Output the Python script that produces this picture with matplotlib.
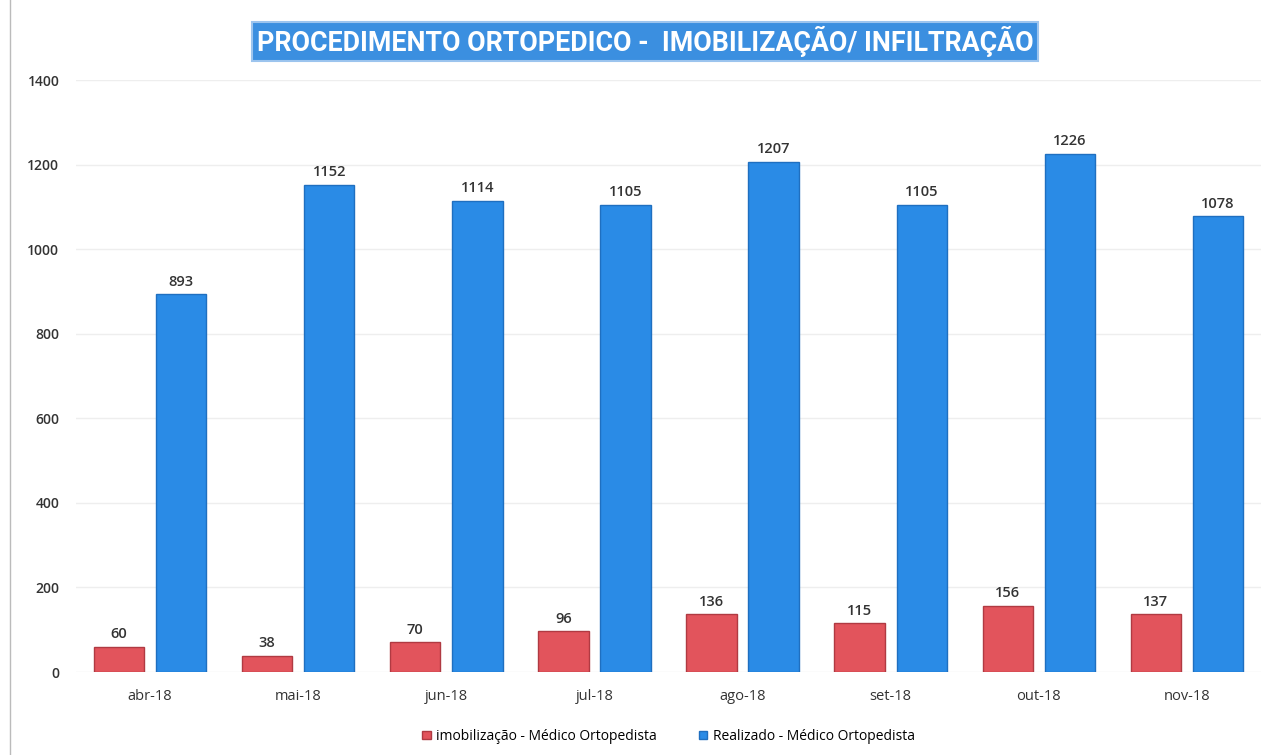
import numpy as np
import matplotlib as mpl
from matplotlib import pyplot as plt
from matplotlib.patches import Rectangle

mpl.rcParams['font.family'] = ['Open Sans', 'DejaVu Sans']

months = ['abr-18', 'mai-18', 'jun-18', 'jul-18', 'ago-18', 'set-18', 'out-18', 'nov-18']
imobilizacao = [60, 38, 70, 96, 136, 115, 156, 137]
realizado = [893, 1152, 1114, 1105, 1207, 1105, 1226, 1078]

red = '#e2545c'
blue = '#2a8be6'

fig = plt.figure(figsize=(12.71, 7.55), dpi=100)
ax = fig.add_axes([76 / 1271, 83 / 755, 1185 / 1271, 592 / 755])

x = np.arange(len(months))
w = 0.34
off = 0.21
ax.bar(x - off, imobilizacao, w, color=red, edgecolor='#b03a42', linewidth=1,
       label='imobilização - Médico Ortopedista', zorder=3)
ax.bar(x + off, realizado, w, color=blue, edgecolor='#1f6fc0', linewidth=1,
       label='Realizado - Médico Ortopedista', zorder=3)

for xi, v in zip(x, imobilizacao):
    ax.annotate(str(v), (xi - off, v), xytext=(0, 4), textcoords='offset points',
                ha='center', va='bottom', fontsize=10.5, fontweight='semibold', color='#333333')
for xi, v in zip(x, realizado):
    ax.annotate(str(v), (xi + off, v), xytext=(0, 4), textcoords='offset points',
                ha='center', va='bottom', fontsize=10.5, fontweight='semibold', color='#333333')

ax.set_xlim(-0.5, len(months) - 0.5)
ax.set_ylim(0, 1400)
ax.set_yticks(range(0, 1401, 200))
ax.set_xticks(x)
ax.set_xticklabels(months, fontsize=10.5, color='#333333')
ax.tick_params(axis='y', labelsize=10, colors='#333333', length=0, pad=12)
for t in ax.get_yticklabels():
    t.set_fontweight('semibold')
ax.tick_params(axis='x', length=0, pad=12)
ax.grid(axis='y', color='#eeeeee', linewidth=1, zorder=0)
for s in ax.spines.values():
    s.set_visible(False)

ax.legend(loc='upper center', bbox_to_anchor=(0.5, -0.075), ncol=2, frameon=False,
          fontsize=10, handlelength=0.6, handleheight=0.6, columnspacing=3,
          handletextpad=0.4)

# title box
fig.patches.append(Rectangle((252 / 1271, 1 - 61 / 755), 786 / 1271, 39 / 755,
                             transform=fig.transFigure, facecolor='#3b8fe0',
                             edgecolor='#9cc4ee', linewidth=1.5))
fig.text(645 / 1271, 1 - 41 / 755, 'PROCEDIMENTO ORTOPEDICO -  IMOBILIZAÇÃO/ INFILTRAÇÃO',
         ha='center', va='center', fontsize=19.3, fontweight='bold', color='white',
         family=['Roboto', 'Open Sans'])

# faint page border on the left
fig.add_artist(plt.Line2D([10 / 1271, 10 / 1271], [0, 1], color='#bbbbbb', linewidth=1))

fig.savefig('out.png', dpi=100)
